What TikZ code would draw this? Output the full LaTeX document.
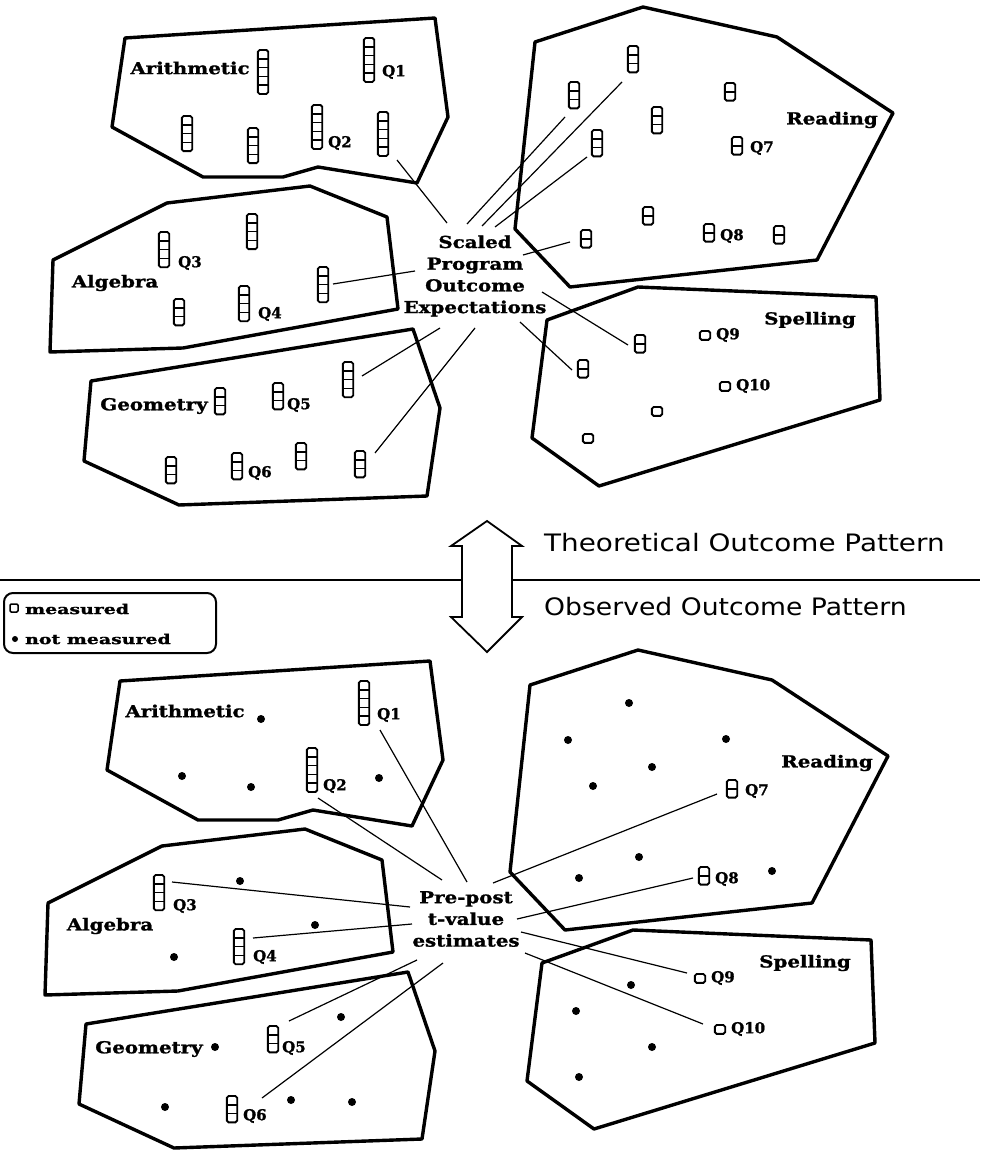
\documentclass[tikz,border=0pt]{standalone}
\usepackage{graphicx}
\usepackage{fontspec}
\newfontfamily\slabfont{DejaVu Serif}[BoldFeatures={FakeBold=1.2}]
\newfontfamily\plainsans{DejaVu Sans}
\newcommand\sx[1]{\scalebox{1.2}[1]{#1}}
\newcommand\sxl[1]{\scalebox{1.4}[1]{#1}}
\tikzset{
  region/.style={line width=3.4pt, line join=round},
  link/.style={line width=1.2pt},
  lab/.style={font=\slabfont\bfseries\fontsize{16.5}{20}\selectfont, inner sep=0pt},
  ctext/.style={font=\slabfont\bfseries\fontsize{16.5}{21.7}\selectfont, inner sep=0pt, align=center},
  qlab/.style={font=\slabfont\bfseries\fontsize{15}{17}\selectfont, inner sep=0pt, anchor=west},
  leglab/.style={font=\slabfont\bfseries\fontsize{13.5}{15}\selectfont, inner sep=0pt, anchor=west},
  cellbox/.style={draw, line width=1.9pt, rounded corners=1.8pt},
  divider/.style={line width=1.5pt},
  dotmark/.style={circle, fill=black, draw=none, inner sep=0pt, minimum size=8pt},
  patt/.style={font=\plainsans\fontsize{24}{28}\selectfont, inner sep=0pt, anchor=west},
}
% column marker: name, x centre, y top, number of cells
\newcommand\qcol[4]{%
  \draw[cellbox] ({#2-5.2},#3) rectangle ++(10.4,{#4*8.8});
  \ifnum#4>1
    \foreach \k in {2,...,#4}{\draw[divider] ({#2-5.2},{#3+(\k-1)*8.8}) -- ++(10.4,0);}
  \fi
  \node[inner sep=0pt, minimum width=10.4pt, minimum height={#4*8.8pt}, anchor=north] (#1) at (#2,#3) {};
}
\newcommand\drawregions[1]{%
  \draw[region] (125,38) -- (435,18) -- (448,117) -- (417,183) -- (318,167) -- (283,177) -- (203,177) -- (112,127) -- cycle;
  \draw[region] (53,260) -- (167,203) -- (310,186) -- (387,217) -- (398,309) -- (183,348) -- (50,352) -- cycle;
  \draw[region] (91,381) -- (413,329) -- (440,408) -- (427,496) -- (179,505) -- (84,461) -- cycle;
  \draw[region] (535,42) -- (643,7) -- (777,37) -- (893,113) -- (817,260) -- (570,287) -- (515,229) -- cycle;
  \draw[region] (547,320) -- (638,287) -- (876,297) -- (880,400) -- (599,486) -- (532,438) -- cycle;
  \node[lab] (#1arith) at (190,68) {\sx{Arithmetic}};
  \node[lab] (#1alg) at (115,283) {\sx{Algebra}};
  \node[lab] (#1geo) at (154,406) {\sx{Geometry}};
  \node[lab] (#1read) at (832,120) {\sx{Reading}};
  \node[lab] (#1spell) at (810,320) {\sx{Spelling}};
}
% measured items Q1..Q10 with their labels
\newcommand\drawQ[1]{%
  \qcol{#1q1}{369}{38}{5}   \node[qlab] (#1l1) at (382,72) {Q1};
  \qcol{#1q2}{317}{105}{5}  \node[qlab] (#1l2) at (328,143) {Q2};
  \qcol{#1q3}{164}{232}{4}  \node[qlab] (#1l3) at (178,263) {Q3};
  \qcol{#1q4}{244}{286}{4}  \node[qlab] (#1l4) at (258,314) {Q4};
  \qcol{#1q5}{278}{383}{3}  \node[qlab] (#1l5) at (287,405) {Q5};
  \qcol{#1q6}{237}{453}{3}  \node[qlab] (#1l6) at (248,473) {Q6};
  \qcol{#1q7}{737}{137}{2}  \node[qlab] (#1l7) at (750,148) {Q7};
  \qcol{#1q8}{709}{224}{2}  \node[qlab] (#1l8) at (720,236) {Q8};
  \qcol{#1q9}{705}{331}{1}  \node[qlab] (#1l9) at (716,335) {Q9};
  \qcol{#1q10}{725}{382}{1} \node[qlab] (#1l10) at (736,386) {Q10};
}
\begin{document}
\begin{tikzpicture}[x=1pt,y=-1pt]
\useasboundingbox (0,0) rectangle (980,1150);
\fill[white] (0,0) rectangle (980,1150);

% ================= TOP: theoretical pattern =================
\drawregions{T}
\drawQ{T}
% unmeasured expectations (columns)
\qcol{Ta1}{263}{50}{5}
\qcol{Ta3}{187}{116}{4}
\qcol{Ta4}{253}{128}{4}
\qcol{Ta6}{383}{112}{5}
\qcol{Tb2}{252}{214}{4}
\qcol{Tb3}{179}{299}{3}
\qcol{Tb5}{323}{267}{4}
\qcol{Tg1}{220}{388}{3}
\qcol{Tg3}{348}{362}{4}
\qcol{Tg4}{171}{457}{3}
\qcol{Tg6}{301}{443}{3}
\qcol{Tg7}{360}{451}{3}
\qcol{Tr1}{633}{46}{3}
\qcol{Tr2}{574}{82}{3}
\qcol{Tr3}{657}{107}{3}
\qcol{Tr4}{730}{83}{2}
\qcol{Tr5}{597}{130}{3}
\qcol{Tr7}{648}{207}{2}
\qcol{Tr8}{586}{230}{2}
\qcol{Tr10}{779}{226}{2}
\qcol{Ts1}{640}{335}{2}
\qcol{Ts2}{583}{360}{2}
\qcol{Ts5}{657}{407}{1}
\qcol{Ts6}{588}{434}{1}

\node[ctext] (scaled) at (475,276) {\sx{Scaled}\\\sx{Program}\\\sx{Outcome}\\\sx{Expectations}};

\foreach \n/\ax/\ay/\bx/\by in {
  1/397/160/447/223, 2/333/284/415/271, 3/362/376/440/328, 4/375/453/475/328,
  5/565/117/467/224, 6/622/82/482/226, 7/587/157/495/227, 8/570/242/523/255,
  9/628/345/542/292, 10/572/370/520/322}{
  \coordinate (ts\n) at (\ax,\ay);
  \coordinate (te\n) at (\bx,\by);
  \draw[link] (ts\n) -- (te\n);
}

% ================= MIDDLE =================
\coordinate (hl) at (0,580);
\coordinate (hr) at (980,580);
\draw[line width=2.2pt] (hl) -- (hr);
\draw[fill=white, line width=1.8pt, line join=miter]
  (487,521) -- (522,546) -- (512,546) -- (512,617) -- (522,617) -- (487,652)
  -- (451,617) -- (462,617) -- (462,546) -- (451,546) -- cycle;
\node[patt] (theo) at (544,543) {\scalebox{1.16}[1]{Theoretical Outcome Pattern}};
\node[patt] (obs) at (544,607) {\scalebox{1.11}[1]{Observed Outcome Pattern}};

\node[draw, line width=2pt, rounded corners=9pt, minimum width=212pt, minimum height=60pt, inner sep=0pt] (legend) at (110,623) {};
\draw[cellbox, line width=1.5pt, rounded corners=1.2pt] (10,604) rectangle ++(8,8);
\node[inner sep=0pt, minimum size=8pt] (legsq) at (14,608) {};
\node[leglab] (legm) at (25,609) {\sxl{measured}};
\node[dotmark, minimum size=6pt] (legdot) at (15,639) {};
\node[leglab] (legn) at (25,639) {\sxl{not measured}};

% ================= BOTTOM: observed pattern =================
\begin{scope}[shift={(-5,643)}]
\drawregions{B}
\drawQ{B}
\foreach \nm/\px/\py in {
  a1/266/76, a3/187/133, a4/256/144, a6/384/135,
  b2/245/238, b3/179/314, b5/320/282,
  g1/220/404, g3/346/374, g4/170/464, g6/296/457, g7/357/459,
  r1/634/60, r2/573/97, r4/731/96, r3/657/124, r5/598/143, r7/644/214, r8/584/235, r10/777/228,
  s1/636/342, s2/581/368, s5/657/404, s6/584/434}{
  \node[dotmark] (Bd\nm) at (\px,\py) {};
}
\end{scope}

\node[ctext] (prepost) at (466,919) {\sx{Pre-post}\\\sx{t-value}\\\sx{estimates}};

\foreach \n/\ax/\ay/\bx/\by in {
  1/380/730/467/882, 2/318/798/442/880, 3/172/882/410/907, 4/253/938/412/924,
  5/289/1021/417/960, 6/262/1098/443/963, 7/717/794/493/883, 8/693/878/517/919,
  9/687/973/521/932, 10/703/1024/525/953}{
  \coordinate (bs\n) at (\ax,\ay);
  \coordinate (be\n) at (\bx,\by);
  \draw[link] (bs\n) -- (be\n);
}
\end{tikzpicture}
\end{document}
